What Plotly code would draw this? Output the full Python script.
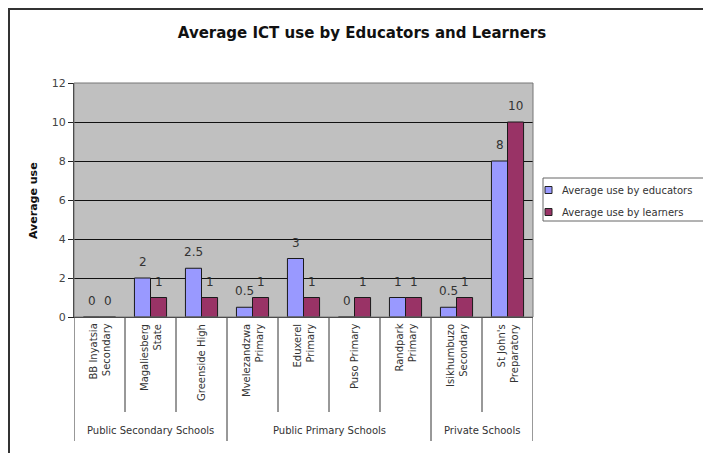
import plotly.graph_objects as go

schools = ["BB Inyatsia<br>Secondary", "Magaliesberg<br>State", "Greenside High",
           "Mvelezandzwa<br>Primary", "Eduxerel<br>Primary", "Puso Primary",
           "Randpark<br>Primary", "Isikhumbuzo<br>Secondary", "St John's<br>Preparatory"]
educators = [0, 2, 2.5, 0.5, 3, 0, 1, 0.5, 8]
learners = [0, 1, 1, 1, 1, 1, 1, 1, 10]
series_names = ["Average use by educators", "Average use by learners"]
series_colors = ["#9999FF", "#993366"]
groups = ["Public Secondary Schools", "Public Primary Schools", "Private Schools"]
group_sizes = [3, 4, 2]
y_ticks = [0, 2, 4, 6, 8, 10, 12]

FONT = "DejaVu Sans, Verdana, sans-serif"
W, H = 711, 453
OFF = 8  # page body margin in the browser
# plot area in screen pixels
L, R, T, B = 74, 533, 83, 317
pw, ph = R - L, B - T


def py(s):
    return (B - s) / ph


def pxx(s):
    return (s - L) / pw


fig = go.Figure()
shapes = []
annotations = []
for k, (vals, name, col) in enumerate(zip([educators, learners], series_names, series_colors)):
    fig.add_trace(go.Bar(
        x=list(range(len(schools))), y=vals, name=name,
        marker=dict(color=col, line=dict(color="#1a1a1a", width=1)),
        showlegend=False, offsetgroup=str(k),
    ))
    # data labels
    for i, v in enumerate(vals):
        annotations.append(dict(
            x=i, xref="x", y=v, yref="y", text=f"{v:g}", showarrow=False,
            xanchor="center", yanchor="middle", xshift=(-8 if k == 0 else 8),
            yshift=16, font=dict(size=12, color="#333", family=FONT),
        ))

# category labels
for i, s in enumerate(schools):
    annotations.append(dict(
        x=i, xref="x", y=py(322), yref="paper", text=s, textangle=-90,
        showarrow=False, xanchor="center", yanchor="top", align="right",
        font=dict(size=10, color="#333", family=FONT),
    ))
# separators
group_bounds = [0]
for g in group_sizes:
    group_bounds.append(group_bounds[-1] + g)
for i in range(len(schools) + 1):
    long = i in group_bounds
    shapes.append(dict(
        type="line", xref="x", yref="paper", x0=i - 0.5, x1=i - 0.5,
        y0=0, y1=py(441 if long else 412), line=dict(color="#333", width=1),
    ))
# group labels
for gi, g in enumerate(groups):
    c = (group_bounds[gi] + group_bounds[gi + 1] - 1) / 2
    annotations.append(dict(
        x=c, xref="x", y=py(430), yref="paper", text=g, showarrow=False,
        xanchor="center", yanchor="middle",
        font=dict(size=10, color="#333", family=FONT),
    ))
# y axis title
annotations.append(dict(
    x=pxx(33), xref="paper", y=py(201), yref="paper", text="<b>Average use</b>",
    textangle=-90, showarrow=False, xanchor="center", yanchor="middle",
    font=dict(size=11, color="#111", family=FONT),
))
# legend (drawn manually)
shapes.append(dict(type="rect", xref="paper", yref="paper",
                   x0=pxx(543), x1=pxx(740), y0=py(221), y1=py(178),
                   line=dict(color="#666", width=1), fillcolor="white"))
for k, (name, col) in enumerate(zip(series_names, series_colors)):
    yc = 190 + k * 22
    shapes.append(dict(type="rect", xref="paper", yref="paper",
                       x0=pxx(545), x1=pxx(552), y0=py(yc + 3.5), y1=py(yc - 3.5),
                       line=dict(color="#222", width=1), fillcolor=col))
    annotations.append(dict(x=pxx(560), xref="paper", y=py(yc), yref="paper",
                            text=name, showarrow=False, xanchor="left",
                            yanchor="middle",
                            font=dict(size=10, color="#333", family=FONT)))
# outer border at the figure edge
shapes.append(dict(
    type="rect", xref="paper", yref="paper",
    x0=pxx(OFF + 1), x1=pxx(800), y0=py(600), y1=py(OFF + 1),
    line=dict(color="#333", width=2), layer="above",
))
# plot area border
shapes.append(dict(
    type="rect", xref="paper", yref="paper", x0=0, x1=1, y0=0, y1=1,
    line=dict(color="#777", width=1), layer="above",
))

fig.update_layout(
    width=W, height=H,
    margin=dict(l=L - OFF, r=W - (R - OFF), t=T - OFF, b=H - (B - OFF), pad=0),
    paper_bgcolor="white", plot_bgcolor="#C0C0C0",
    barmode="group", bargap=0.37, bargroupgap=0,
    title=dict(text="<b>Average ICT use by Educators and Learners</b>",
               x=(362 - OFF) / W, xanchor="center", y=1 - (33 - OFF) / H,
               yanchor="middle",
               font=dict(size=15, color="#111", family=FONT)),
    xaxis=dict(range=[-0.5, len(schools) - 0.5], showticklabels=False,
               showgrid=False, zeroline=False, showline=True,
               linecolor="#222", linewidth=1, ticks=""),
    yaxis=dict(range=[0, 12], tickvals=y_ticks, showgrid=True, gridcolor="#111",
               gridwidth=1, zeroline=False, showline=True, linecolor="#222",
               linewidth=1, ticks="outside", ticklen=5, tickcolor="#222",
               tickfont=dict(size=11, color="#444", family=FONT)),
    shapes=shapes, annotations=annotations,
    showlegend=False,
)
fig.write_html("out.html")
